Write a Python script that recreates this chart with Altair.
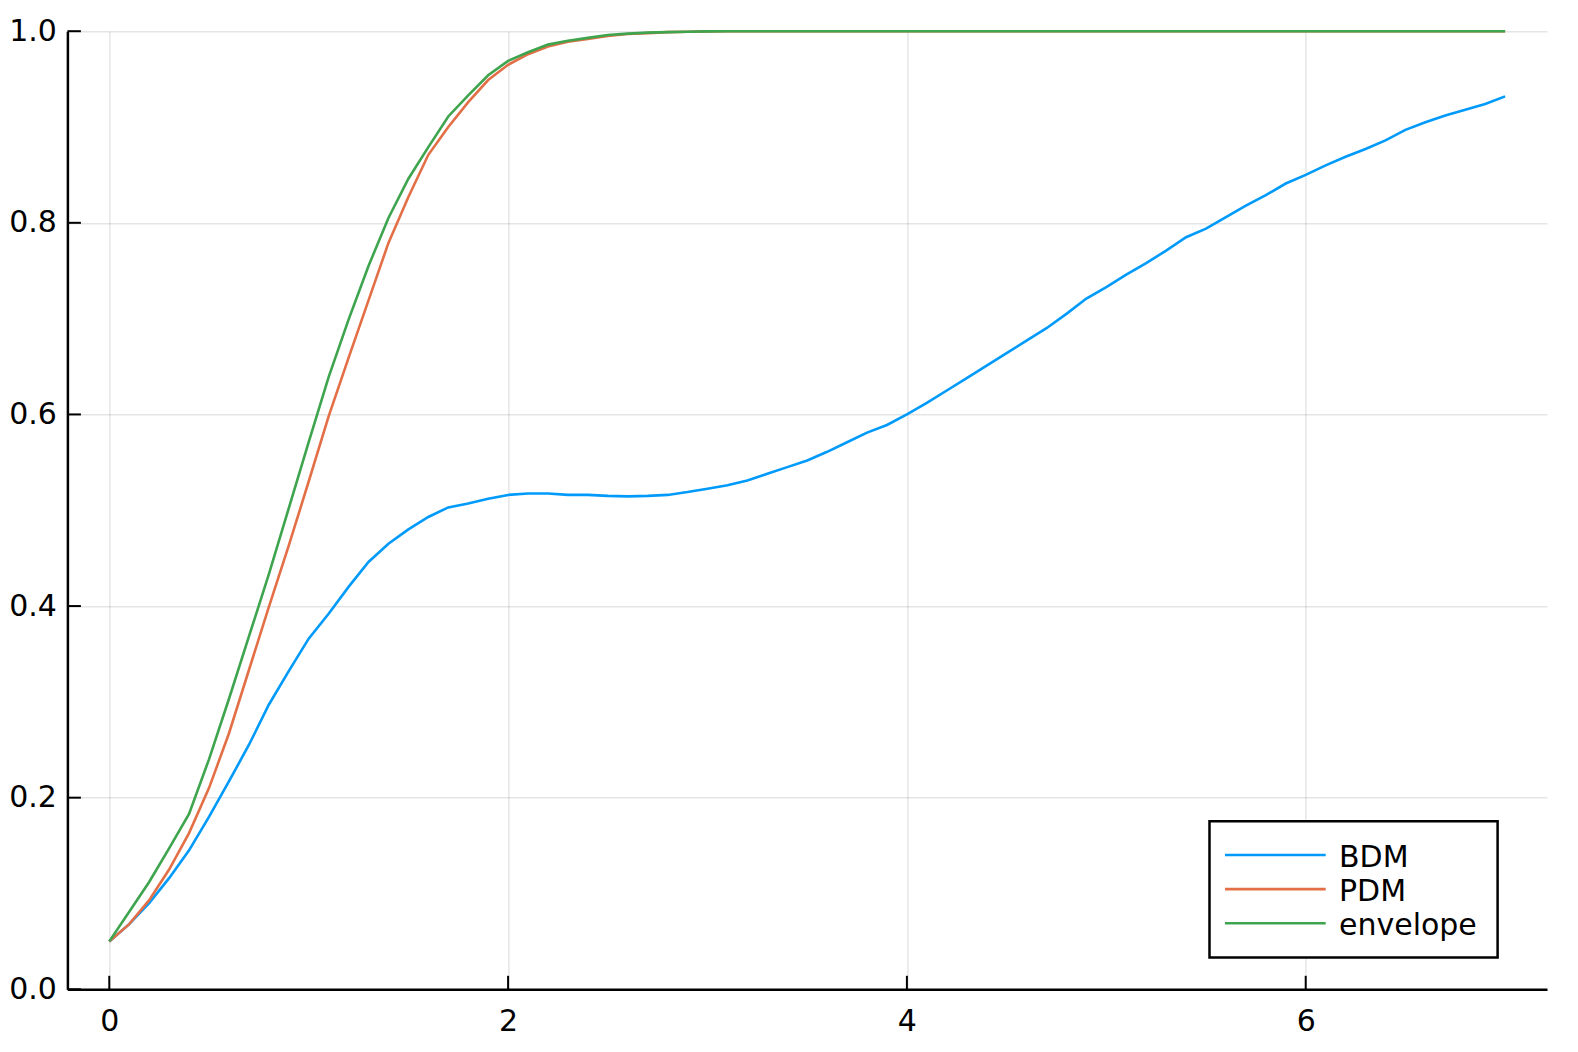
import altair as alt
import pandas as pd

# ---- data ----
x_vals = [0.0, 0.1, 0.2, 0.3, 0.4, 0.5, 0.6, 0.7, 0.8, 0.9,
          1.0, 1.1, 1.2, 1.3, 1.4, 1.5, 1.6, 1.7, 1.8, 1.9,
          2.0, 2.1, 2.2, 2.3, 2.4, 2.5, 2.6, 2.7, 2.8, 2.9,
          3.0, 3.1, 3.2, 3.3, 3.4, 3.5, 3.6, 3.7, 3.8, 3.9,
          4.0, 4.1, 4.2, 4.3, 4.4, 4.5, 4.6, 4.7, 4.8, 4.9,
          5.0, 5.1, 5.2, 5.3, 5.4, 5.5, 5.6, 5.7, 5.8, 5.9,
          6.0, 6.1, 6.2, 6.3, 6.4, 6.5, 6.6, 6.7, 6.8, 6.9,
          7.0]

bdm = [0.050, 0.068, 0.090, 0.116, 0.145, 0.180, 0.217, 0.255, 0.297, 0.332,
       0.366, 0.392, 0.420, 0.446, 0.465, 0.480, 0.493, 0.503, 0.507, 0.512,
       0.516, 0.5175, 0.5175, 0.516, 0.516, 0.515, 0.5145, 0.515, 0.516, 0.519,
       0.5225, 0.526, 0.531, 0.538, 0.545, 0.552, 0.561, 0.571, 0.581, 0.589,
       0.600, 0.612, 0.625, 0.638, 0.651, 0.664, 0.677, 0.690, 0.705, 0.721,
       0.733, 0.746, 0.758, 0.771, 0.785, 0.794, 0.806, 0.818, 0.829, 0.841,
       0.850, 0.860, 0.869, 0.877, 0.886, 0.897, 0.905, 0.912, 0.918, 0.924,
       0.932]

pdm = [0.050, 0.068, 0.093, 0.125, 0.163, 0.210, 0.267, 0.333, 0.399, 0.463,
       0.530, 0.598, 0.659, 0.719, 0.779, 0.827, 0.871, 0.900, 0.926, 0.949,
       0.965, 0.976, 0.984, 0.989, 0.992, 0.995, 0.997, 0.998, 0.999, 0.9995,
       0.9998, 1.0, 1.0, 1.0, 1.0, 1.0, 1.0, 1.0, 1.0, 1.0,
       1.0, 1.0, 1.0, 1.0, 1.0, 1.0, 1.0, 1.0, 1.0, 1.0,
       1.0, 1.0, 1.0, 1.0, 1.0, 1.0, 1.0, 1.0, 1.0, 1.0,
       1.0, 1.0, 1.0, 1.0, 1.0, 1.0, 1.0, 1.0, 1.0, 1.0,
       1.0]

envelope = [0.050, 0.081, 0.112, 0.147, 0.183, 0.240, 0.303, 0.368, 0.433, 0.502,
            0.571, 0.639, 0.699, 0.755, 0.805, 0.846, 0.879, 0.911, 0.933, 0.954,
            0.969, 0.978, 0.986, 0.990, 0.993, 0.996, 0.9975, 0.9985, 0.999, 0.9995,
            0.9998, 1.0, 1.0, 1.0, 1.0, 1.0, 1.0, 1.0, 1.0, 1.0,
            1.0, 1.0, 1.0, 1.0, 1.0, 1.0, 1.0, 1.0, 1.0, 1.0,
            1.0, 1.0, 1.0, 1.0, 1.0, 1.0, 1.0, 1.0, 1.0, 1.0,
            1.0, 1.0, 1.0, 1.0, 1.0, 1.0, 1.0, 1.0, 1.0, 1.0,
            1.0]

series_names = ["BDM", "PDM", "envelope"]
series_colors = ["#009AFA", "#E36F47", "#3EA44E"]

x_ticks = [0, 2, 4, 6]
y_ticks = [0.0, 0.2, 0.4, 0.6, 0.8, 1.0]

# ---- tables ----
rows = []
for name, vals in zip(series_names, [bdm, pdm, envelope]):
    for xv, yv in zip(x_vals, vals):
        rows.append({"x": xv, "y": yv, "series": name})
df = pd.DataFrame(rows)
df_xt = pd.DataFrame({"t": x_ticks})
df_yt = pd.DataFrame({"t": y_ticks})
df_leg = pd.DataFrame({"series": series_names})

W, H = 1479.6, 958.1
FONT = "DejaVu Sans"
xscale = alt.Scale(domain=[-0.21, 7.21], nice=False, zero=False)
yscale = alt.Scale(domain=[0, 1], nice=False, zero=False)
cscale = alt.Scale(domain=series_names, range=series_colors)

lines = alt.Chart(df).mark_line(strokeWidth=2.6).encode(
    x=alt.X("x:Q", scale=xscale,
            axis=alt.Axis(values=x_ticks, format="d", title=None, grid=True,
                          ticks=False, labelPadding=17)),
    y=alt.Y("y:Q", scale=yscale,
            axis=alt.Axis(values=y_ticks, format=".1f", title=None, grid=True,
                          ticks=False, labelPadding=11)),
    color=alt.Color("series:N", scale=cscale, legend=None),
    order=alt.Order("x:Q"),
)

xt = alt.Chart(df_xt).mark_rule(color="black", strokeWidth=2).encode(
    x=alt.X("t:Q", scale=xscale),
    y=alt.value(H),
    y2=alt.value(H - 13.5),
)

yt = alt.Chart(df_yt).mark_rule(color="black", strokeWidth=2).encode(
    y=alt.Y("t:Q", scale=yscale),
    x=alt.value(0),
    x2=alt.value(13.5),
)

main = alt.layer(lines, xt, yt)

# ---- legend ----
leg_y = alt.Y("series:N",
              scale=alt.Scale(type="point", domain=series_names,
                              range=[823.8, 892.1], padding=0),
              axis=None)

frame = alt.Chart(df_leg.head(1)).mark_rect(
    fill="white", stroke="black", strokeWidth=2.5
).encode(
    x=alt.value(1142.1), x2=alt.value(1430.2),
    y=alt.value(790.0), y2=alt.value(926.2),
)

leg_lines = alt.Chart(df_leg).mark_rule(strokeWidth=2.6).encode(
    x=alt.value(1157.6), x2=alt.value(1258.3),
    y=leg_y,
    color=alt.Color("series:N", scale=cscale, legend=None),
)

leg_text = alt.Chart(df_leg).mark_text(
    align="left", baseline="middle", font=FONT, fontSize=30, color="black", dy=3
).encode(
    x=alt.value(1271.6),
    y=leg_y,
    text="series:N",
)

legend = alt.layer(frame, leg_lines, leg_text)

chart = alt.layer(main, legend).resolve_scale(y="independent").properties(
    width=W, height=H,
    autosize=alt.AutoSizeParams(type="none"),
    padding={"left": 59.4, "top": 23.2, "right": 20, "bottom": 50},
    background="white",
).configure_view(
    stroke=None
).configure_axis(
    labelFont=FONT, labelFontSize=30, labelColor="black",
    domainColor="black", domainWidth=2.5,
    gridColor="black", gridOpacity=0.1, gridWidth=1.5,
)

chart.save("out.html", embed_options={"renderer": "svg", "actions": False})
